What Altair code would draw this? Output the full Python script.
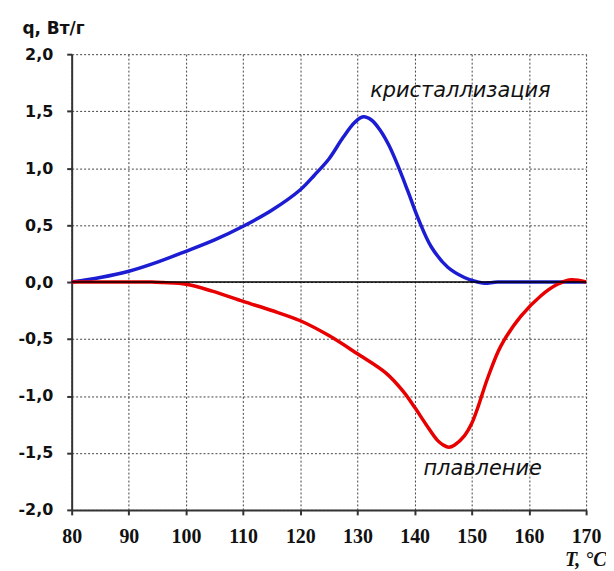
import altair as alt
import pandas as pd

# crystallization curve (blue)
T_cryst = [80, 85, 90, 95, 100, 105, 110, 115, 120, 122.5, 125, 127.5, 129.5, 131,
           132.5, 134, 135.5, 137, 138.8, 140.6, 142.9, 145.8, 148.7, 151, 152.2, 154.5, 160, 170]
q_cryst = [0.0, 0.04, 0.095, 0.175, 0.27, 0.37, 0.49, 0.63, 0.81, 0.94, 1.08, 1.27, 1.40, 1.45,
           1.42, 1.33, 1.20, 1.03, 0.80, 0.56, 0.31, 0.13, 0.04, 0.0, -0.01, 0.0, 0.0, 0.0]

# melting curve (red)
T_melt = [80, 90, 94, 96, 100, 104.6, 110, 115, 120, 125, 130, 135, 138, 140, 142, 144,
          145, 146, 147, 148.7, 150, 151, 152.8, 155.1, 158.6, 162.1, 165, 167.3, 170]
q_melt = [0.0, 0.0, 0.0, -0.005, -0.02, -0.08, -0.17, -0.25, -0.34, -0.47, -0.63, -0.80, -0.96,
          -1.10, -1.25, -1.39, -1.43, -1.45, -1.43, -1.35, -1.24, -1.11, -0.84, -0.56, -0.30,
          -0.12, -0.02, 0.02, 0.0]

series_names = ["кристаллизация", "плавление"]
series_colors = ["#1c1cd2", "#e80000"]

x_ticks = [80, 90, 100, 110, 120, 130, 140, 150, 160, 170]
y_ticks = [-2.0, -1.5, -1.0, -0.5, 0.0, 0.5, 1.0, 1.5, 2.0]

label_text = ["кристаллизация", "плавление"]
label_T = [148.0, 151.9]
label_q = [1.68, -1.64]

df = pd.concat([
    pd.DataFrame({"T": T_cryst, "q": q_cryst, "s": series_names[0]}),
    pd.DataFrame({"T": T_melt, "q": q_melt, "s": series_names[1]}),
])
df_lab = pd.DataFrame({"T": label_T, "q": label_q, "t": label_text})

x_scale = alt.Scale(domain=[80, 170], nice=False, zero=False)
y_scale = alt.Scale(domain=[-2, 2], nice=False)

x_axis = alt.Axis(
    values=x_ticks, grid=True, gridDash=[2, 2], gridColor="#444444", gridWidth=1, gridOpacity=1,
    domainColor="#333333", domainWidth=2, tickColor="#333333", tickWidth=2, tickSize=5,
    labelFont="Liberation Serif", labelFontWeight="bold", labelFontSize=20, labelColor="#111111",
    labelPadding=12, labelFlush=False,
    title="T, °C", titleFont="Liberation Serif", titleFontStyle="italic", titleFontWeight="bold",
    titleFontSize=20, titleColor="#111111", titleX=537, titleY=50, titleAlign="right",
    titleBaseline="middle",
)
y_axis = alt.Axis(
    values=y_ticks, grid=True, gridDash=[2, 2], gridColor="#444444", gridWidth=1, gridOpacity=1,
    domainColor="#333333", domainWidth=2, tickColor="#333333", tickWidth=2, tickSize=5,
    labelFont="DejaVu Sans", labelFontWeight="bold", labelFontSize=16, labelColor="#111111",
    labelPadding=14, labelFlush=False,
    labelExpr="replace(replace(format(datum.value, '.1f'), '.', ','), '\u2212', '-')",
    title="q, Вт/г", titleFont="DejaVu Sans", titleFontWeight="bold", titleFontSize=17,
    titleColor="#111111", titleAngle=0, titleX=-50, titleY=-26, titleAlign="left",
    titleBaseline="middle",
)

lines = alt.Chart(df).mark_line(strokeWidth=3.5, interpolate="catmull-rom").encode(
    x=alt.X("T:Q", scale=x_scale, axis=x_axis),
    y=alt.Y("q:Q", scale=y_scale, axis=y_axis),
    color=alt.Color("s:N", scale=alt.Scale(domain=series_names, range=series_colors), legend=None),
)

zero = alt.Chart(pd.DataFrame({"z": [0]})).mark_rule(color="black", strokeWidth=1.5).encode(
    y=alt.Y("z:Q", scale=y_scale)
)

texts = alt.Chart(df_lab).mark_text(
    font="DejaVu Sans", fontStyle="italic", fontSize=21, color="#111111", baseline="middle"
).encode(
    x=alt.X("T:Q", scale=x_scale),
    y=alt.Y("q:Q", scale=y_scale),
    text="t:N",
)

chart = alt.layer(lines, zero, texts).properties(
    width=517, height=458,
    autosize=alt.AutoSizeParams(type="none"),
    padding={"left": 64, "top": 45, "right": 20, "bottom": 60},
    background="white",
).configure_view(stroke=None)

chart.save("out.html", embed_options={"renderer": "svg", "actions": False})
